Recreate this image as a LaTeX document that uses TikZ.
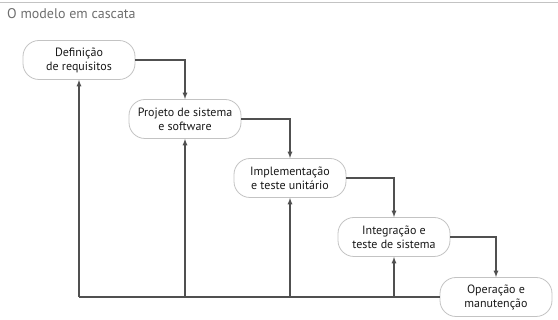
\documentclass[tikz,border=0pt]{standalone}
\usepackage{fontspec}
\setmainfont{PT Sans}
\usetikzlibrary{arrows}
\usetikzlibrary{calc}
\definecolor{boxline}{RGB}{195,195,195}
\definecolor{flowline}{RGB}{80,80,80}
\definecolor{titlegray}{RGB}{110,110,110}
\tikzset{phase/.style={rectangle, rounded corners=16pt, draw=boxline, line width=.8pt, minimum width=112pt, minimum height=39pt, inner sep=2pt, align=center, font=\fontsize{12}{14}\selectfont, text=black!90}}
\tikzset{flow/.style={draw=flowline, line width=1.2pt, -latex}}

\begin{document}
\begin{tikzpicture}[x=1pt,y=-1pt]
  \useasboundingbox (0,0) rectangle (558,320);
  \draw[boxline, line width=.6pt] (0,2.5) -- (558,2.5);
  \node[anchor=west, inner sep=0pt, text=titlegray, font=\fontsize{14}{16}\selectfont] (title) at (7,14) {O modelo em cascata};
  \foreach \x/\y/\lab/\txt in {
    79/60/req/{Definição\\de requisitos},
    185/119/proj/{Projeto de sistema\\e software},
    290/178/impl/{Implementação\\e teste unitário},
    394/237/integ/{Integração e\\teste de sistema},
    496/297/oper/{Operação e\\manutenção}%
  } {
    \node[phase] (\lab) at (\x, \y) {\txt};
  }
  \foreach \x/\lab in {
    79/fa,
    185/fb,
    290/fc,
    394/fd%
  } {
    \coordinate (\lab) at (\x, 297);
  }
  \foreach \u/\v in {
    req/proj,
    proj/impl,
    impl/integ,
    integ/oper%
  }{
    \draw[flow] (\u.east) -| (\v.north);
  }
  \draw[draw=flowline, line width=1.2pt] (fa) -- (oper.west);
  \foreach \u/\v in {
    fa/req,
    fb/proj,
    fc/impl,
    fd/integ%
  }{
    \draw[flow] (\u) -- (\v.south);
  }
\end{tikzpicture}
\end{document}
